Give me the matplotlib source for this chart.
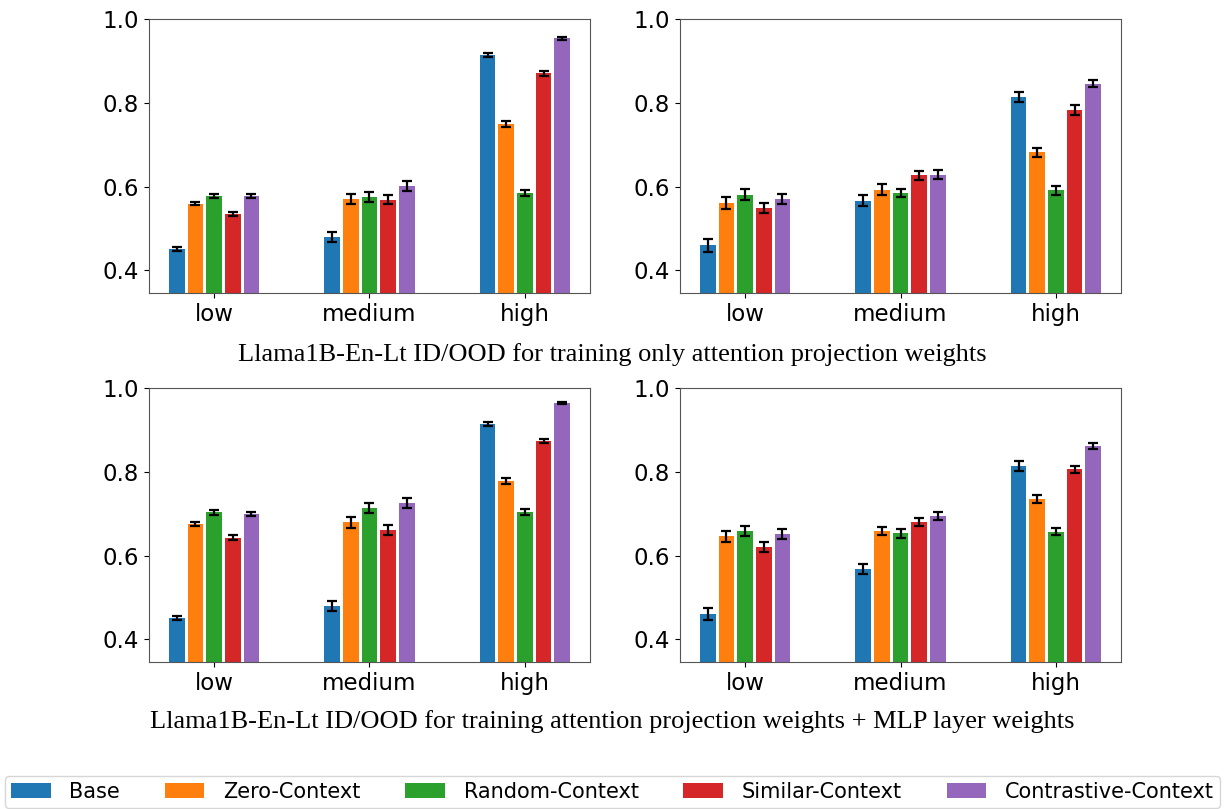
import matplotlib
matplotlib.use("Agg")
import matplotlib.pyplot as plt
import numpy as np

# ---------------------------------------------------------------------------
# Data
# ---------------------------------------------------------------------------

categories = ["low", "medium", "high"]
methods = ["Base", "Zero-Context", "Random-Context", "Similar-Context", "Contrastive-Context"]
colors = ["#1f77b4", "#ff7f0e", "#2ca02c", "#d62728", "#9467bd"]

# attention projection only, ID (left) / OOD (right); rows = methods, cols = categories
attn_id = [[0.451, 0.480, 0.914],
           [0.559, 0.570, 0.749],
           [0.577, 0.575, 0.585],
           [0.535, 0.569, 0.871],
           [0.577, 0.601, 0.954]]
attn_id_err = [[0.004, 0.012, 0.005],
               [0.004, 0.012, 0.007],
               [0.005, 0.012, 0.008],
               [0.005, 0.011, 0.006],
               [0.005, 0.012, 0.003]]

attn_ood = [[0.460, 0.566, 0.813],
            [0.561, 0.593, 0.682],
            [0.581, 0.585, 0.591],
            [0.549, 0.627, 0.783],
            [0.570, 0.628, 0.846]]
attn_ood_err = [[0.015, 0.013, 0.012],
                [0.014, 0.013, 0.011],
                [0.013, 0.010, 0.010],
                [0.013, 0.011, 0.011],
                [0.012, 0.011, 0.009]]

# attention projection + MLP weights
mlp_id = [[0.451, 0.480, 0.914],
          [0.676, 0.679, 0.777],
          [0.703, 0.713, 0.704],
          [0.643, 0.661, 0.874],
          [0.699, 0.725, 0.964]]
mlp_id_err = [[0.004, 0.012, 0.005],
              [0.005, 0.013, 0.007],
              [0.005, 0.012, 0.007],
              [0.005, 0.011, 0.005],
              [0.005, 0.012, 0.002]]

mlp_ood = [[0.461, 0.567, 0.813],
           [0.646, 0.658, 0.735],
           [0.659, 0.653, 0.657],
           [0.621, 0.680, 0.806],
           [0.651, 0.695, 0.861]]
mlp_ood_err = [[0.014, 0.012, 0.012],
               [0.013, 0.010, 0.010],
               [0.012, 0.010, 0.008],
               [0.012, 0.010, 0.009],
               [0.012, 0.010, 0.007]]

captions = [
    "Llama1B-En-Lt ID/OOD for training only attention projection weights",
    "Llama1B-En-Lt ID/OOD for training attention projection weights + MLP layer weights",
]

# ---------------------------------------------------------------------------
# Plotting
# ---------------------------------------------------------------------------

def draw_panel(ax, vals, errs):
    x = np.arange(len(categories))
    step = 0.12
    for i, (name, col) in enumerate(zip(methods, colors)):
        ax.bar(x + (i - 2) * step, vals[i], width=0.1, yerr=errs[i],
               color=col, label=name, capsize=3.5,
               error_kw=dict(elinewidth=1.6, capthick=1.6, ecolor="black"))
    ax.set_xticks(x)
    ax.set_xticklabels(categories)
    ax.set_ylim(0.346, 1.0)
    ax.set_yticks([0.4, 0.6, 0.8, 1.0])
    ax.tick_params(labelsize=16.5)
    for s in ax.spines.values():
        s.set_color("#555555")


fig = plt.figure(figsize=(12.25, 8.09), dpi=100)
W, H = 1225, 809
boxes = [(149, 19, 441, 274), (680, 19, 441, 274),
         (149, 388, 441, 274), (680, 388, 441, 274)]
panels = [(attn_id, attn_id_err), (attn_ood, attn_ood_err),
          (mlp_id, mlp_id_err), (mlp_ood, mlp_ood_err)]
axes = []
for (l, t, w, h), (v, e) in zip(boxes, panels):
    ax = fig.add_axes([l / W, 1 - (t + h) / H, w / W, h / H])
    draw_panel(ax, v, e)
    axes.append(ax)

fig.text(612 / W, 1 - 355 / H, captions[0], ha="center", va="center",
         family="Liberation Serif", fontsize=19)
fig.text(612 / W, 1 - 722 / H, captions[1], ha="center", va="center",
         family="Liberation Serif", fontsize=19)

handles, labels = axes[0].get_legend_handles_labels()
fig.legend(handles, labels, loc="lower center", ncol=5,
           bbox_to_anchor=(612.5 / W, 1 / H),
           fontsize=15, handlelength=1.9, handletextpad=0.9,
           columnspacing=2.15, borderaxespad=0.0, borderpad=0.3)

fig.savefig("out.png", dpi=100)
plt.close(fig)
